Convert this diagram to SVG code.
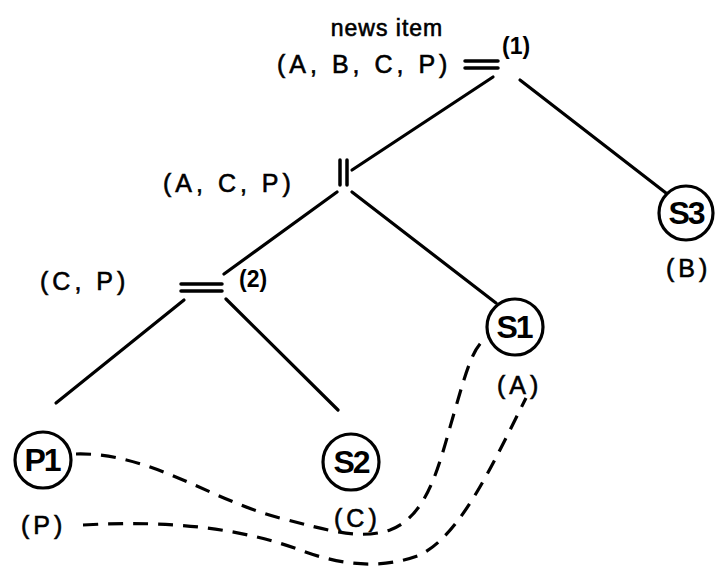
<svg xmlns="http://www.w3.org/2000/svg" width="715" height="571" viewBox="0 0 715 571">
<style>
.ln{stroke:#000;stroke-width:3.2;fill:none;stroke-linecap:round}
.bar{stroke:#000;stroke-width:3.5;fill:none;stroke-linecap:round}
.dash{stroke:#000;stroke-width:3.2;fill:none;stroke-dasharray:15 10}
.node{stroke:#000;stroke-width:3.2;fill:#fff}
.lbl{font-family:"Liberation Sans",Arial,sans-serif;font-size:25px;fill:#000;stroke:#000;stroke-width:0.6;letter-spacing:4px}
.nt{font-family:"Liberation Sans",Arial,sans-serif;font-size:32px;font-weight:bold;fill:#000;text-anchor:middle;letter-spacing:-2px}
.num{font-family:"Liberation Sans",Arial,sans-serif;font-size:23px;font-weight:bold;fill:#000}
</style>
<rect width="715" height="571" fill="#fff"/>
<g id="connectors">
<line class="ln" x1="493" y1="77" x2="352" y2="170"/>
<line class="ln" x1="520" y1="80" x2="666" y2="193"/>
<line class="ln" x1="337" y1="192" x2="224" y2="274"/>
<line class="ln" x1="352" y1="192" x2="496" y2="303"/>
<line class="ln" x1="184" y1="300" x2="56" y2="403"/>
<line class="ln" x1="226" y1="299" x2="338" y2="410"/>
<path class="dash" d="M76,454 C150,452 210,500 280,518 C330,531 360,540 390,530 C430,515 440,460 455,410 C468,365 475,340 492,336"/>
<path class="dash" d="M83,525 C170,520 240,528 300,550 C340,565 380,570 420,555 C460,535 490,470 526,398"/>
</g>
<g id="root">
<text class="lbl" x="387" y="36" text-anchor="middle" style="letter-spacing:1px;font-size:23px">news item</text>
<text class="lbl" x="277" y="73">(A, B, C, P)</text>
<line class="bar" x1="465" y1="61" x2="498" y2="61"/>
<line class="bar" x1="465" y1="68" x2="498" y2="68"/>
<text class="num" x="502" y="54">(1)</text>
</g>
<g id="acp">
<text class="lbl" x="163" y="192">(A, C, P)</text>
<line class="bar" x1="340" y1="160" x2="340" y2="185"/>
<line class="bar" x1="347" y1="160" x2="347" y2="185"/>
</g>
<g id="cp">
<text class="lbl" x="40" y="290">(C, P)</text>
<line class="bar" x1="181" y1="284" x2="222" y2="284"/>
<line class="bar" x1="181" y1="291" x2="222" y2="291"/>
<text class="num" x="239" y="287">(2)</text>
</g>
<g id="S3">
<circle class="node" cx="686" cy="213" r="27"/>
<text class="nt" x="686" y="224">S3</text>
<text class="lbl" x="666" y="277">(B)</text>
</g>
<g id="S1">
<circle class="node" cx="515" cy="327" r="28"/>
<text class="nt" x="514" y="338">S1</text>
<text class="lbl" x="497" y="394">(A)</text>
</g>
<g id="S2">
<circle class="node" cx="351" cy="462" r="28"/>
<text class="nt" x="351" y="473">S2</text>
<text class="lbl" x="334" y="527">(C)</text>
</g>
<g id="P1">
<circle class="node" cx="43" cy="460" r="28"/>
<text class="nt" x="42" y="471">P1</text>
<text class="lbl" x="21" y="534">(P)</text>
</g>
</svg>
